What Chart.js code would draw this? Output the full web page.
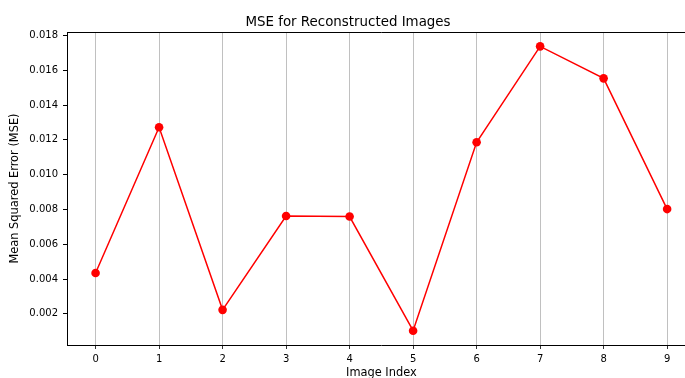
<!DOCTYPE html>
<html>
<head>
<meta charset="utf-8">
<script src="https://cdn.jsdelivr.net/npm/chart.js@4/dist/chart.umd.min.js"></script>
<style>
html, body { margin: 0; padding: 0; overflow: hidden; background: #fff; }
#wrap { width: 685px; height: 378px; overflow: hidden; position: relative; }
canvas { display: block; }
</style>
</head>
<body>
<div id="wrap"><canvas id="c" width="700" height="390"></canvas></div>
<script>
const imageIndex = [0, 1, 2, 3, 4, 5, 6, 7, 8, 9];
const mseValues = [0.00435, 0.01272, 0.00223, 0.00762, 0.00759, 0.00103, 0.01186, 0.01737, 0.01553, 0.00802];
const xTicks = [0, 1, 2, 3, 4, 5, 6, 7, 8, 9];
const yTicks = [0.002, 0.004, 0.006, 0.008, 0.010, 0.012, 0.014, 0.016, 0.018];

const FONT = "'DejaVu Sans', sans-serif";

const topBorder = {
  id: 'topBorder',
  afterDraw(chart) {
    const { ctx, chartArea } = chart;
    ctx.save();
    ctx.strokeStyle = '#000';
    ctx.lineWidth = 1;
    ctx.beginPath();
    ctx.moveTo(chartArea.left, Math.round(chartArea.top) + 0.5);
    ctx.lineTo(chartArea.right, Math.round(chartArea.top) + 0.5);
    ctx.stroke();
    ctx.restore();
  }
};

new Chart(document.getElementById('c'), {
  type: 'line',
  data: {
    datasets: [{
      data: imageIndex.map((x, i) => ({ x: x, y: mseValues[i] })),
      borderColor: '#ff0000',
      backgroundColor: '#ff0000',
      borderWidth: 1.5,
      pointRadius: 4.3,
      pointBorderWidth: 0,
      pointBackgroundColor: '#ff0000',
      tension: 0,
      fill: false
    }]
  },
  options: {
    responsive: false,
    devicePixelRatio: 1,
    animation: false,
    layout: { padding: { left: 0, right: 4, top: 0, bottom: 0 } },
    plugins: {
      legend: { display: false },
      tooltip: { enabled: false },
      title: {
        display: true,
        text: 'MSE for Reconstructed Images',
        color: '#000',
        font: { family: FONT, size: 13.4, weight: 'normal' },
        padding: { top: 14, bottom: 2 }
      }
    },
    scales: {
      x: {
        type: 'linear',
        min: -0.45,
        max: 9.45,
        afterBuildTicks: (s) => { s.ticks = xTicks.map(v => ({ value: v })); },
        afterFit: (s) => { s.height = 45; },
        grid: { display: true, color: '#b0b0b0', lineWidth: 0.8, tickColor: '#000', tickLength: 4, drawOnChartArea: true },
        border: { display: true, color: '#000', width: 1 },
        ticks: { color: '#000', font: { family: FONT, size: 10 }, padding: 4, maxRotation: 0, callback: (v) => String(v) },
        title: { display: true, text: 'Image Index', color: '#000', font: { family: FONT, size: 11.4 }, padding: { top: 0, bottom: 10 } }
      },
      y: {
        type: 'linear',
        min: 0.00021,
        max: 0.01819,
        afterBuildTicks: (s) => { s.ticks = yTicks.map(v => ({ value: v })); },
        afterFit: (s) => { s.width = 67; },
        grid: { display: true, drawOnChartArea: false, drawTicks: true, tickLength: 4, color: '#000', tickColor: '#000' },
        border: { display: true, color: '#000', width: 1 },
        ticks: { color: '#000', font: { family: FONT, size: 10 }, padding: 5, callback: (v) => Number(v).toFixed(3) },
        title: { display: true, text: 'Mean Squared Error (MSE)', color: '#000', font: { family: FONT, size: 11.4 }, padding: { top: 8, bottom: 0 } }
      }
    }
  },
  plugins: [topBorder]
});
</script>
</body>
</html>
